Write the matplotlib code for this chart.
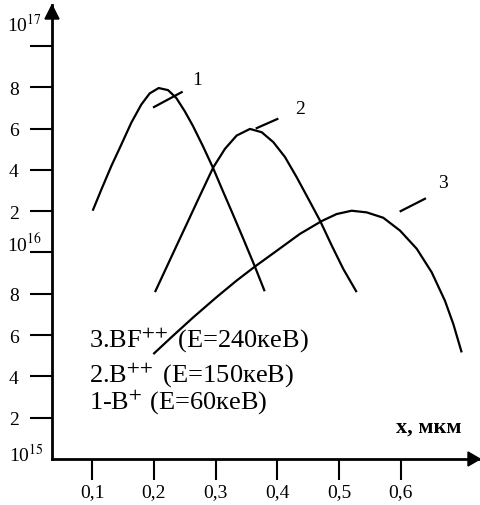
import matplotlib
matplotlib.use("Agg")
import matplotlib.pyplot as plt
from matplotlib.patches import Polygon

plt.rcParams['font.family'] = ['Liberation Serif', 'DejaVu Serif']
plt.rcParams['mathtext.fontset'] = 'stix'

# ---- data (y in axis-position units: 0 = 1e15, 5 = 1e16, 10 = 1e17) ----
c1_x = [0.1006, 0.1146, 0.1308, 0.1470, 0.1632, 0.1794, 0.1930, 0.2076, 0.2227,
        0.2361, 0.2498, 0.2632, 0.2794, 0.2956, 0.3118, 0.3280, 0.3442, 0.3632,
        0.3794]
c1_y = [6.01, 6.52, 7.09, 7.61, 8.14, 8.58, 8.85, 8.98, 8.93, 8.74, 8.42, 8.06,
        7.57, 7.05, 6.48, 5.92, 5.35, 4.67, 4.06]
c2_x = [0.2016, 0.2178, 0.2368, 0.2556, 0.2746, 0.2961, 0.3151, 0.3340, 0.3556,
        0.3746, 0.3934, 0.4123, 0.4313, 0.4501, 0.4691, 0.4880, 0.5068, 0.5285]
c2_y = [4.04, 4.56, 5.17, 5.77, 6.38, 7.06, 7.51, 7.83, 7.99, 7.91, 7.67, 7.31,
        6.82, 6.30, 5.77, 5.17, 4.60, 4.04]
c3_x = [0.1989, 0.2313, 0.2637, 0.3016, 0.3340, 0.3637, 0.3989, 0.4366, 0.4718,
        0.4961, 0.5204, 0.5447, 0.5716, 0.5987, 0.6258, 0.6501, 0.6716, 0.6851,
        0.6987]
c3_y = [2.54, 2.99, 3.43, 3.92, 4.32, 4.66, 5.04, 5.45, 5.76, 5.93, 6.01, 5.97,
        5.84, 5.53, 5.09, 4.52, 3.83, 3.27, 2.58]

x_ticks = [0.1, 0.2, 0.3, 0.4, 0.5, 0.6]
x_ticklabels = ["0,1", "0,2", "0,3", "0,4", "0,5", "0,6"]
y_ticks = [1, 2, 3, 4, 5, 6, 7, 8, 9, 10]
y_ticklabels = ["2", "4", "6", "8", "", "2", "4", "6", "8", ""]
decade_labels = ["10$^{15}$", "10$^{16}$", "10$^{17}$"]

curve_names = ["1", "2", "3"]
curve_label_pos = [(0.2697, 9.19), (0.4366, 8.49), (0.6689, 6.70)]
leader_lines = [((0.2000, 8.52), (0.2449, 8.88)),
                ((0.3665, 8.01), (0.3999, 8.23)),
                ((0.5998, 6.00), (0.6392, 6.30))]
legend_lines = [r"3.BF$^{+\!+}$ (E=240кеВ)", r"2.B$^{+\!+}$ (E=150кеВ)",
                r"1-B$^{+}$ (E=60кеВ)"]
xlabel = "х, мкм"

# ---- figure ----
W, H = 480, 506
fig = plt.figure(figsize=(W / 100, H / 100), dpi=100)
L, R, B, T = 52, 480, 460, 6   # axes edges in pixels (top-left origin)
ax = fig.add_axes([L / W, (H - B) / H, (R - L) / W, (B - T) / H])
ax.set_xlim(0.03468, 0.7284)
ax.set_ylim(0, 10.99)

for sp in ['top', 'right']:
    ax.spines[sp].set_visible(False)
for sp in ['left', 'bottom']:
    ax.spines[sp].set_linewidth(2.0)

ax.set_xticks(x_ticks)
ax.set_xticklabels(x_ticklabels, fontsize=14)
ax.set_yticks(y_ticks)
ax.set_yticklabels(y_ticklabels, fontsize=14)
ax.tick_params(axis='x', direction='out', length=15, width=1.5, pad=2)
ax.tick_params(axis='y', direction='out', length=16, width=1.5, pad=8)

# arrow heads
aw, ah = R - L, B - T
ax.add_patch(Polygon([(0, 1), (-7 / aw, 1 - 14 / ah), (7 / aw, 1 - 14 / ah)],
                     closed=True, color='black', transform=ax.transAxes,
                     clip_on=False, zorder=5))
ax.add_patch(Polygon([(1, 0), (1 - 12 / aw, 7 / ah), (1 - 12 / aw, -7 / ah)],
                     closed=True, color='black', transform=ax.transAxes,
                     clip_on=False, zorder=5))

# curves
for xs, ys in [(c1_x, c1_y), (c2_x, c2_y), (c3_x, c3_y)]:
    ax.plot(xs, ys, color='black', lw=1.6, solid_joinstyle='round',
            solid_capstyle='butt')

for name, pos, (p0, p1) in zip(curve_names, curve_label_pos, leader_lines):
    ax.plot([p0[0], p1[0]], [p0[1], p1[1]], color='black', lw=1.6)
    ax.text(pos[0], pos[1], name, fontsize=14, ha='center', va='center')

# legend text
for txt, yy in zip(legend_lines, [2.91, 2.06, 1.41]):
    ax.text(0.0951, yy, txt, fontsize=19, ha='left', va='center')

ax.text(0.593, 0.775, xlabel, fontsize=16, fontweight='bold', ha='left',
        va='center')

# decade labels (placed beside the axis, as in the original)
for txt, py, px in zip(decade_labels, [455, 244, 25], [26, 25, 24]):
    fig.text(px / W, 1 - py / H, txt, fontsize=14, ha='center', va='center')

fig.savefig("out.png", dpi=100)
